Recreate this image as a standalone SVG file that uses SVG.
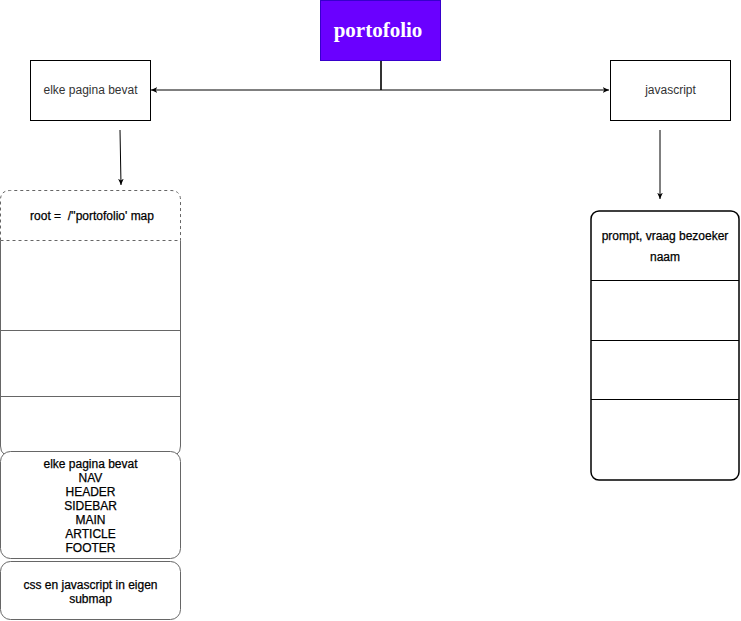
<svg xmlns="http://www.w3.org/2000/svg" width="741" height="621" viewBox="0 0 741 621">
<defs>
<marker id="arr" viewBox="0 0 10 10" refX="9" refY="5" markerWidth="7" markerHeight="7" orient="auto-start-reverse" markerUnits="userSpaceOnUse">
<path d="M0,1 L9,5 L0,9 L2.5,5 Z" fill="#000"/>
</marker>
<style>
.t{font-family:"Liberation Sans",Arial,sans-serif;font-size:12px;fill:#333;text-anchor:middle}
.b{font-family:"Liberation Sans",Arial,sans-serif;font-size:12px;fill:#000;stroke:#000;stroke-width:0.25;text-anchor:middle;white-space:pre}
.box{fill:#fff;stroke:#000;stroke-width:1}
.g{fill:#fff;stroke:#666;stroke-width:1}
.c{fill:none;stroke:#000;stroke-width:1}
</style>
</defs>
<rect width="741" height="621" fill="#fff"/>
<g id="connectors">
<path d="M381,60 V90" fill="none" stroke="#333" stroke-width="2"/>
<path class="c" d="M381,90 H151" marker-end="url(#arr)"/>
<path class="c" d="M381,90 H609" marker-end="url(#arr)"/>
<path class="c" d="M120,130 L121,185" marker-end="url(#arr)"/>
<path class="c" d="M660,130 V199" marker-end="url(#arr)"/>
</g>
<g id="portofolio">
<rect x="320.5" y="0.5" width="120" height="60" fill="#6a00ff" stroke="#3700cc"/>
<text x="378" y="37" font-family="'Liberation Serif','Times New Roman',serif" font-size="21" font-weight="bold" fill="#fff" text-anchor="middle">portofolio</text>
</g>
<g id="elke">
<rect class="box" x="30.5" y="60.5" width="120" height="60"/>
<text class="t" x="90.5" y="94">elke pagina bevat</text>
</g>
<g id="javascript">
<rect class="box" x="610.5" y="60.5" width="120" height="60"/>
<text class="t" x="670.5" y="94">javascript</text>
</g>
<g id="root-table">
<path d="M0.5,452 V200 Q0.5,190.5 10.5,190.5 H170.5 Q180.5,190.5 180.5,200 V452" fill="#fff" stroke="none"/>
<path d="M0.5,240.5 V200 Q0.5,190.5 10.5,190.5 H170.5 Q180.5,190.5 180.5,200 V240.5 M0.5,240.5 H180.5" fill="none" stroke="#666" stroke-dasharray="3,3"/>
<path d="M0.5,240.5 V446 Q0.5,452 4,454 M180.5,240.5 V446 Q180.5,452 177,454 M0.5,330.5 H180.5 M0.5,396.5 H180.5" fill="none" stroke="#666"/>
<text class="b" x="92" y="220" xml:space="preserve">root =  /''portofolio' map</text>
</g>
<g id="elke-list">
<rect class="g" x="0.5" y="451.5" width="180" height="107" rx="10"/>
<text class="b" x="90.5" y="468">elke pagina bevat</text>
<text class="b" x="90.5" y="482">NAV</text>
<text class="b" x="90.5" y="496">HEADER</text>
<text class="b" x="90.5" y="510">SIDEBAR</text>
<text class="b" x="90.5" y="524">MAIN</text>
<text class="b" x="90.5" y="538">ARTICLE</text>
<text class="b" x="90.5" y="552">FOOTER</text>
</g>
<g id="css">
<rect class="g" x="0.5" y="561.5" width="180" height="58" rx="10"/>
<text class="b" x="90.5" y="589">css en javascript in eigen</text>
<text class="b" x="90.5" y="603">submap</text>
</g>
<g id="prompt-table">
<rect x="591" y="211" width="148" height="269" rx="8" fill="#fff" stroke="#000" stroke-width="1.5"/>
<path d="M591,280.5 H739 M591,340.5 H739 M591,399.5 H739" fill="none" stroke="#000"/>
<text class="b" x="665" y="240">prompt, vraag bezoeker</text>
<text class="b" x="665" y="261">naam</text>
</g>
</svg>
